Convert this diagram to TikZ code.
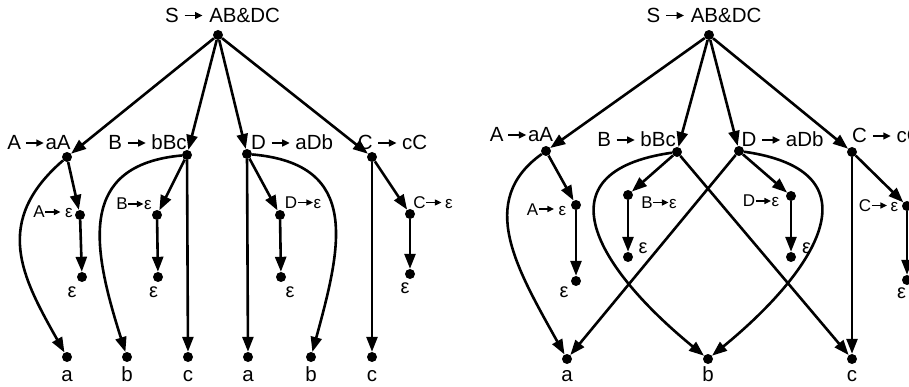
\documentclass[tikz,border=0pt]{standalone}
\usepackage{fontspec}
\setmainfont{Liberation Sans}
\usetikzlibrary{arrows.meta}
\newcommand\bigarr{\tikz[baseline=0pt,x=1pt,y=1pt]\draw[line width=1.5pt,-{Triangle[length=7.5pt,width=7pt]}] (0,7.0) -- (18,7.0);}
\newcommand\smarr{\tikz[baseline=0pt,x=1pt,y=1pt]\draw[line width=1.3pt,-{Triangle[length=6.5pt,width=6pt]}] (0,6.0) -- (15,6.0);}
\begin{document}
\begin{tikzpicture}[x=1pt,y=-1pt,
  dot/.style={circle,fill=black,inner sep=0pt,minimum size=10pt},
  conn/.style={line width=2.6pt,-{Triangle[length=15pt,width=11pt]}},
  big/.style={font=\fontsize{20.5}{24}\selectfont,inner sep=0pt,anchor=base},
  small/.style={font=\fontsize{17}{20}\selectfont,inner sep=0pt,anchor=base},
  eps/.style={font=\fontsize{20}{24}\selectfont,inner sep=0pt,anchor=base}]
\useasboundingbox (0,0) rectangle (909,387);
\clip (0,0) rectangle (909,387);

% ---------------- left tree ----------------
\node[dot] (lS) at (218,35) {};
\node[dot] (lA) at (67,157) {};
\node[dot] (lB) at (187,155) {};
\node[dot] (lD) at (247,154) {};
\node[dot] (lC) at (372,157) {};
\node[dot] (lAe) at (80,215) {};
\node[dot] (lBe) at (157,215) {};
\node[dot] (lDe) at (280,215) {};
\node[dot] (lCe) at (410,214) {};
\node[dot] (lAee) at (82,277) {};
\node[dot] (lBee) at (158,277) {};
\node[dot] (lDee) at (281,277) {};
\node[dot] (lCee) at (410,274) {};
\node[dot] (la1) at (67,357) {};
\node[dot] (lb1) at (127,357) {};
\node[dot] (lc1) at (188,357) {};
\node[dot] (la2) at (248,357) {};
\node[dot] (lb2) at (311,357) {};
\node[dot] (lc2) at (372,357) {};

\node[big] (tlS) at (222.5,22.5) {S\hspace{5pt}\bigarr\hspace{6pt}AB\&DC};
\node[big] (tlA) at (39,150) {A\hspace{4pt}\bigarr\hspace{1pt}aA};
\node[big] (tlB) at (147.5,150) {B\hspace{5pt}\bigarr\hspace{5pt}bBc};
\node[big] (tlD) at (292,150) {D\hspace{5pt}\bigarr\hspace{5pt}aDb};
\node[big] (tlC) at (392.5,150) {C\hspace{5pt}\bigarr\hspace{5pt}cC};
\node[small] (tlAe) at (53,218) {A\smarr\hspace{4pt}ε};
\node[small] (tlBe) at (134,210) {B\smarr ε};
\node[small] (tlDe) at (303,208.5) {D\smarr ε};
\node[small] (tlCe) at (433,208.5) {C\smarr\hspace{3pt}ε};
\node[eps] (elA) at (72,297) {ε};
\node[eps] (elB) at (153.5,297) {ε};
\node[eps] (elD) at (290,297) {ε};
\node[eps] (elC) at (405,293) {ε};
\node[big] (tla1) at (67,381) {a};
\node[big] (tlb1) at (127,381) {b};
\node[big] (tlc1) at (188,381) {c};
\node[big] (tla2) at (248,381) {a};
\node[big] (tlb2) at (311,381) {b};
\node[big] (tlc2) at (372,381) {c};

\draw[conn] (lS) -- (lA);
\draw[conn] (lS) -- (lB);
\draw[conn] (lS) -- (lD);
\draw[conn] (lS) -- (lC);
\draw[conn] (lA) -- (lAe);
\draw[conn] (lAe) -- (lAee);
\draw[conn] (lB) -- (lBe);
\draw[conn] (lBe) -- (lBee);
\draw[conn] (lD) -- (lDe);
\draw[conn] (lDe) -- (lDee);
\draw[conn] (lC) -- (lCe);
\draw[conn] (lCe) -- (lCee);
\draw[conn] (lB) -- (lc1);
\draw[conn] (lD) -- (la2);
\draw[conn] (lC) -- (lc2);
\draw[conn] (lA) .. controls +(-75,65) and +(-45,-80) .. (la1);
\draw[conn] (lB) .. controls +(-110,10) and +(-35,-110) .. (lb1);
\draw[conn] (lD) .. controls +(115,10) and +(30,-110) .. (lb2);

% ---------------- right tree ----------------
\node[dot] (rS) at (709,35) {};
\node[dot] (rA) at (546,151) {};
\node[dot] (rB) at (677,152) {};
\node[dot] (rD) at (739,151) {};
\node[dot] (rC) at (852,152) {};
\node[dot] (rAe) at (576,205) {};
\node[dot] (rBe) at (628,195) {};
\node[dot] (rDe) at (791,196) {};
\node[dot] (rCe) at (907,206) {};
\node[dot] (rAee) at (576,281) {};
\node[dot] (rBee) at (628,257) {};
\node[dot] (rDee) at (791,257) {};
\node[dot] (rCee) at (907,280) {};
\node[dot] (ra) at (567,359) {};
\node[dot] (rb) at (708,359) {};
\node[dot] (rc) at (852,359) {};

\node[big] (trS) at (704,22.5) {S\hspace{5pt}\bigarr\hspace{6pt}AB\&DC};
\node[big] (trA) at (521.5,142) {A\hspace{4pt}\bigarr\hspace{1pt}aA};
\node[big] (trB) at (636.5,147) {B\hspace{5pt}\bigarr\hspace{5pt}bBc};
\node[big] (trD) at (782.5,147) {D\hspace{5pt}\bigarr\hspace{5pt}aDb};
\node[big,anchor=base west] (trC) at (852,143) {C\hspace{5pt}\bigarr\hspace{5pt}cC};
\node[small] (trAe) at (546.5,215) {A\smarr\hspace{4pt}ε};
\node[small] (trBe) at (659,208.5) {B\smarr ε};
\node[small] (trDe) at (761,207) {D\smarr ε};
\node[small] (trCe) at (878.5,211.5) {C\smarr\hspace{3pt}ε};
\node[eps] (erA) at (564,297) {ε};
\node[eps] (erB) at (643,253) {ε};
\node[eps] (erD) at (806.5,253) {ε};
\node[eps] (erC) at (901.5,298) {ε};
\node[big] (tra) at (567,381) {a};
\node[big] (trb) at (708,381) {b};
\node[big] (trc) at (852,381) {c};

\draw[conn] (rS) -- (rA);
\draw[conn] (rS) -- (rB);
\draw[conn] (rS) -- (rD);
\draw[conn] (rS) -- (rC);
\draw[conn] (rA) -- (rAe);
\draw[conn] (rAe) -- (rAee);
\draw[conn] (rB) -- (rBe);
\draw[conn] (rBe) -- (rBee);
\draw[conn] (rD) -- (rDe);
\draw[conn] (rDe) -- (rDee);
\draw[conn] (rC) -- (rCe);
\draw[conn] (rCe) -- (rCee);
\draw[conn] (rB) -- (rc);
\draw[conn] (rD) -- (ra);
\draw[conn] (rC) -- (rc);
\draw[conn] (rA) .. controls +(-70,50) and +(-50,-90) .. (ra);
\draw[conn] (rB) .. controls +(-140,20) and +(-110,-90) .. (rb);
\draw[conn] (rD) .. controls +(140,20) and +(110,-90) .. (rb);
\end{tikzpicture}
\end{document}
